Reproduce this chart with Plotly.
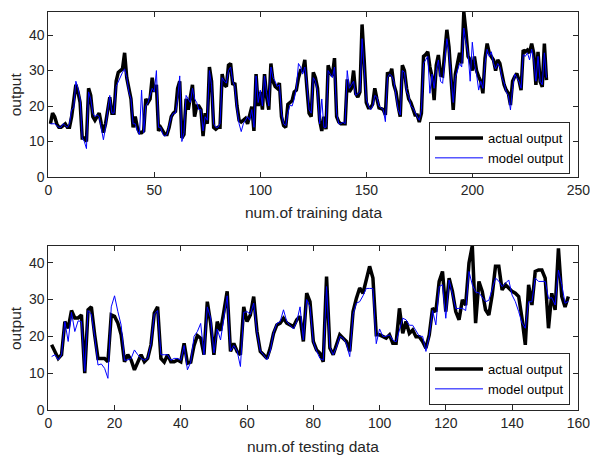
import plotly.graph_objects as go

# ---------------- data ----------------
train_actual = [
    15, 18, 17, 15, 14, 14, 14.5, 15, 14, 14,
    17, 21, 26, 24, 21, 11, 11, 10, 25, 23,
    17, 16, 17, 18, 15, 12.5, 15, 19, 22.5, 18,
    18, 27, 29.5, 30, 30.5, 35, 28, 25, 22, 14,
    17, 14, 12.5, 12.5, 13, 22, 21, 22, 28, 24,
    26, 13, 14, 13, 12, 12, 14, 17, 18, 18.5,
    25, 27, 11, 12, 22, 19, 22, 26, 17, 20,
    20, 19, 11.5, 18, 15, 31, 27, 14, 13.5, 14,
    14, 29, 26, 25.5, 31.5, 32, 26, 26.5, 20, 16,
    15.5, 16, 16.5, 15, 17.5, 19.8, 13, 29, 20, 24,
    19, 29, 22.5, 19, 32, 27, 25.5, 25, 26.5, 17,
    14.5, 14, 20.5, 21, 21.5, 24, 24.5, 28, 30, 30,
    33, 25, 18, 17, 29.5, 28, 25, 16, 13, 17,
    13.5, 31.5, 29.5, 28.5, 33.5, 17, 15.5, 15, 15, 15,
    27.5, 24, 25, 30, 23.5, 22.5, 24, 43, 33, 21,
    19.5, 19.5, 20.5, 25, 22, 19.5, 19.3, 19, 17.5, 29.5,
    28.5, 30.5, 26, 24, 20, 17, 31.5, 30, 25, 22,
    21, 19, 17.5, 17.5, 15.5, 18, 34, 34.5, 35.3, 31,
    28.3, 21.7, 31.5, 34.4, 28.7, 28.5, 36, 41.5, 36.7, 26.9,
    18.9, 29, 32, 35, 32, 46.5, 41, 34, 33, 30,
    34, 30, 28.3, 27, 23.6, 33.4, 37.6, 35, 33.9, 33,
    30, 33, 32, 28.3, 26, 24.5, 23.6, 20.3, 27, 28.3,
    29.2, 27.3, 24.5, 35.8, 35.3, 35.8, 35, 37.6, 34.8, 26,
    35.3, 26.9, 25.4, 37.6, 27.3,
]
train_model = [
    15, 15, 15, 14.5, 14, 14, 15, 14.5, 14, 15,
    19, 19.5, 27, 25, 22, 11, 10, 8, 24, 22,
    18, 17, 17.5, 17, 14, 10.5, 14, 18, 23, 18,
    18, 25.5, 27, 28.5, 29.5, 30.5, 28, 24, 22, 15,
    15, 13, 12, 24.5, 12.5, 20, 21, 23, 25, 24,
    30, 14, 14, 12, 11.5, 12, 14.5, 17, 18, 18,
    22, 28.5, 10, 12.5, 23, 22, 21, 25, 22, 21,
    19, 19, 13, 17, 16, 30, 26, 15, 14, 14,
    15, 28, 27, 26.5, 30, 31, 27, 25.5, 19, 15,
    12.8, 15, 16, 17, 16, 19, 14, 28.5, 21, 24.5,
    20, 28.5, 23.5, 20, 31, 28, 27, 25.5, 26, 18,
    15, 14.5, 18, 20.3, 20, 22, 25, 32, 31, 29,
    31, 26, 19, 18, 28, 27, 24, 15, 22, 14,
    14, 30, 29, 28, 31, 18, 15, 15, 15.5, 15,
    30, 25, 26, 27, 23, 23.5, 24, 39, 31, 22,
    20, 19, 20, 23, 22.5, 20, 19.5, 19, 15.6, 28,
    29, 28.5, 27, 23, 19, 17.5, 30, 29.5, 24, 23,
    20, 19.5, 18, 17, 16, 19, 32, 33, 34, 23.6,
    29, 25, 30, 33, 27, 26.4, 33, 39, 35, 27,
    21, 28, 30, 32, 31, 42, 38, 35, 27, 38,
    32, 29, 24.5, 27, 25, 32, 36, 34, 35.3, 32,
    30.5, 32, 31, 28, 26.5, 24, 23, 18.9, 25, 29,
    28, 27, 25, 34.5, 34, 35, 33, 36, 33, 27,
    34, 27, 26, 35, 28,
]
test_actual = [
    17.7, 15.9, 14, 15, 24, 22.2, 27, 25, 25, 25.8,
    10, 27.2, 28, 20.4, 14, 14, 14, 13.1, 25.8, 25.4,
    23.6, 20.4, 13.1, 15, 13.6, 10.9, 12.7, 15, 13.1, 14,
    17.7, 26.3, 28, 14, 13, 15, 13.1, 13.1, 13.6, 13.1,
    18.1, 12.7, 13, 17.5, 20.2, 19.5, 15, 29.4, 23.6, 15,
    24, 21.5, 26.7, 32.2, 15.9, 18.1, 15.9, 15, 28, 24,
    25.8, 30.8, 21.3, 15.9, 15, 14, 16.8, 20.8, 23.1, 23.6,
    24.9, 23.6, 23.1, 22.6, 24.5, 25.4, 18.6, 31.7, 29.4, 18.6,
    16.3, 15.4, 13.1, 36.2, 16.8, 15, 17.7, 20.4, 19.5, 18.6,
    15.9, 26.7, 30.3, 33.1, 31.7, 35.8, 39, 35.8, 20.4, 20.4,
    20, 19.5, 20.4, 18.1, 18.1, 27.6, 20.8, 24, 20.8, 21.7,
    19.9, 19.9, 18.6, 16.8, 20.4, 27.6, 26.7, 34.9, 37.6, 26.7,
    35.8, 32.2, 26.7, 24.5, 29.9, 28.5, 39.9, 44.6, 23.6, 34.9,
    32.2, 27.2, 25.8, 31.2, 39, 39, 32.6, 34, 33.1, 32.2,
    31.7, 30.8, 24.9, 17.7, 34, 28.5, 37.6, 38, 38, 35.8,
    22.2, 31.7, 27.2, 43.9, 30.8, 28, 30.8,
]
test_model = [
    14.5, 15, 13.6, 15, 24, 18.6, 26.5, 21.3, 24.2, 24,
    10.5, 27, 26, 20, 12.2, 12.5, 11.3, 8.6, 28, 31,
    26.7, 23, 13.5, 13.6, 14, 16.3, 15, 14, 13.5, 14,
    18, 26, 27, 15, 15, 15, 13.5, 14, 14, 13.5,
    17.5, 10.9, 13, 20, 21.3, 23.5, 15, 28, 25, 15.5,
    22, 19, 25, 31, 16, 17.5, 16, 11.8, 26.5, 26.7,
    26, 29, 21, 16, 15, 13.6, 16, 21, 23.5, 24,
    27.2, 24, 23, 22, 24, 28, 19, 30, 28, 18.5,
    16, 14, 13.5, 33.5, 17, 15, 17, 20, 19.5, 18,
    14.5, 26, 29, 29.4, 31, 33, 33, 33, 18, 22,
    20, 20, 20.4, 19, 18.5, 22, 24.9, 24.5, 23, 23,
    21.5, 20, 20, 15.9, 20, 27, 23.1, 33.5, 34, 24.9,
    35.3, 31, 27.5, 27.6, 27.6, 27, 37.6, 34, 32, 31.8,
    30.5, 29.4, 29.8, 32.6, 35.8, 35, 33.5, 34.4, 35.3, 31.2,
    29.4, 26.7, 23.6, 22.2, 29.4, 29.4, 35.8, 34.9, 35, 34.9,
    30.3, 30.5, 28.5, 38, 34, 29, 29.5,
]
train_x = list(range(1, len(train_actual) + 1))
test_x = list(range(1, len(test_actual) + 1))

train_xticks = [0, 50, 100, 150, 200, 250]
test_xticks = [0, 20, 40, 60, 80, 100, 120, 140, 160]
y_ticks = [0, 10, 20, 30, 40]

# ---------------- figure ----------------
W, H = 590, 456
FONT = "Liberation Sans, Arial, Helvetica, sans-serif"
AXC = "#262626"

def px_x(p):
    return p / W

def px_y(p):
    return 1 - p / H

fig = go.Figure()
fig.add_trace(go.Scatter(x=train_x, y=train_actual, mode="lines", name="actual output",
                         line=dict(color="black", width=3.5), xaxis="x", yaxis="y", legend="legend"))
fig.add_trace(go.Scatter(x=train_x, y=train_model, mode="lines", name="model output",
                         line=dict(color="#0000ff", width=1), xaxis="x", yaxis="y", legend="legend"))
fig.add_trace(go.Scatter(x=test_x, y=test_actual, mode="lines", name="actual output",
                         line=dict(color="black", width=3.5), xaxis="x2", yaxis="y2", legend="legend2"))
fig.add_trace(go.Scatter(x=test_x, y=test_model, mode="lines", name="model output",
                         line=dict(color="#0000ff", width=1), xaxis="x2", yaxis="y2", legend="legend2"))

x_dom = [px_x(48.3), px_x(578.3)]

axis_common = dict(
    showline=True, linecolor=AXC, linewidth=1, mirror="ticks",
    ticks="inside", ticklen=5, tickwidth=1, tickcolor=AXC,
    showgrid=False, zeroline=False,
    tickfont=dict(family=FONT, size=14, color=AXC),
    automargin=False, ticklabeloverflow="allow",
)

legend_common = dict(
    xanchor="right", yanchor="bottom",
    bgcolor="white", bordercolor=AXC, borderwidth=1,
    font=dict(family=FONT, size=13, color="black"), tracegroupgap=0,
    itemwidth=48,
)

fig.update_layout(
    width=W, height=H,
    margin=dict(l=0, r=0, t=0, b=0),
    paper_bgcolor="white", plot_bgcolor="white",
    font=dict(family=FONT, color=AXC),
    xaxis=dict(domain=x_dom, range=[0, 250], tickvals=train_xticks, anchor="y", **axis_common),
    yaxis=dict(domain=[px_y(177), px_y(11.7)], range=[0, 46.6], tickvals=y_ticks, anchor="x", **axis_common),
    xaxis2=dict(domain=x_dom, range=[0, 160], tickvals=test_xticks, anchor="y2", **axis_common),
    yaxis2=dict(domain=[px_y(410), px_y(245.7)], range=[0, 44.6], tickvals=y_ticks, anchor="x2", **axis_common),
    legend=dict(x=px_x(570), y=px_y(174), **legend_common),
    legend2=dict(x=px_x(570), y=px_y(405), **legend_common),
    showlegend=True,
)

title_font = dict(family=FONT, size=15.5, color=AXC)
annotations = [
    dict(text="num.of training data", x=px_x(313.3), y=px_y(213), xref="paper", yref="paper",
         showarrow=False, font=title_font, xanchor="center", yanchor="middle"),
    dict(text="num.of testing data", x=px_x(313.3), y=px_y(446), xref="paper", yref="paper",
         showarrow=False, font=title_font, xanchor="center", yanchor="middle"),
    dict(text="output", x=px_x(15), y=px_y(94.3), xref="paper", yref="paper",
         showarrow=False, font=title_font, textangle=-90, xanchor="center", yanchor="middle"),
    dict(text="output", x=px_x(15), y=px_y(328), xref="paper", yref="paper",
         showarrow=False, font=title_font, textangle=-90, xanchor="center", yanchor="middle"),
]
fig.update_layout(annotations=annotations)

fig.write_html("out.html")
